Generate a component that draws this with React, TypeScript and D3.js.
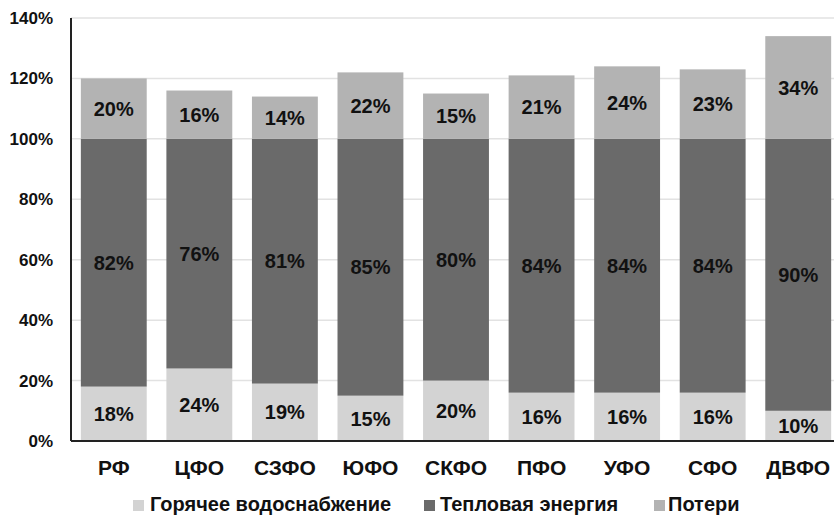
import React from 'react';
import * as d3 from 'd3';

const regions = ['РФ', 'ЦФО', 'СЗФО', 'ЮФО', 'СКФО', 'ПФО', 'УФО', 'СФО', 'ДВФО'];
const hotWater = [18, 24, 19, 15, 20, 16, 16, 16, 10];
const heatEnergy = [82, 76, 81, 85, 80, 84, 84, 84, 90];
const losses = [20, 16, 14, 22, 15, 21, 24, 23, 34];
const yTicks = [0, 20, 40, 60, 80, 100, 120, 140];
const seriesNames = ['Горячее водоснабжение', 'Тепловая энергия', 'Потери'];
const seriesColors = ['#d3d3d3', '#6a6a6a', '#b3b3b3'];

const W = 834;
const H = 517;
const margin = { top: 18, left: 71, bottom: 441 };

export default function App() {
  const x = d3.scaleBand<string>()
    .domain(regions)
    .range([margin.left, 841])
    .paddingInner(0.23)
    .paddingOuter(0.115);

  const y = d3.scaleLinear().domain([0, 140]).range([margin.bottom, margin.top]);

  const rows = regions.map((r, i) => ({ region: r, hot: hotWater[i], heat: heatEnergy[i], loss: losses[i] }));
  const stack = d3.stack<any>().keys(['hot', 'heat', 'loss'])(rows);

  const font = 'Arial, "Liberation Sans", sans-serif';
  const narrow = '"Liberation Sans Narrow", "Arial Narrow", Arial, sans-serif';

  // legend: square position, text position
  const legendItems = [
    { sx: 133, tx: 150, name: seriesNames[0], color: seriesColors[0] },
    { sx: 424, tx: 440, name: seriesNames[1], color: seriesColors[1] },
    { sx: 654, tx: 668, name: seriesNames[2], color: seriesColors[2] },
  ];

  return (
    <svg width={W} height={H} style={{ position: 'absolute', left: 0, top: 0, background: '#fff' }}>
      {yTicks.map(t => (
        <g key={t}>
          {t > 0 && (
            <line x1={margin.left} x2={W} y1={y(t)} y2={y(t)} stroke="#e2e2e2" strokeWidth={1.5} />
          )}
          <text x={53} y={y(t)} dy="0.35em" textAnchor="end" fontFamily={font} fontWeight="bold" fontSize={17} fill="#111">
            {t}%
          </text>
        </g>
      ))}

      {stack.map((layer, si) => (
        <g key={si}>
          {layer.map((d, i) => (
            <g key={i}>
              <rect
                x={x(regions[i])}
                y={y(d[1])}
                width={x.bandwidth()}
                height={y(d[0]) - y(d[1])}
                fill={seriesColors[si]}
              />
              <text
                x={(x(regions[i]) || 0) + x.bandwidth() / 2}
                y={(y(d[0]) + y(d[1])) / 2}
                dy="0.36em"
                textAnchor="middle"
                fontFamily={narrow}
                fontWeight="bold"
                fontSize={20}
                fill="#111"
              >
                {d[1] - d[0]}%
              </text>
            </g>
          ))}
        </g>
      ))}

      <line x1={margin.left} x2={margin.left} y1={margin.top} y2={margin.bottom} stroke="#222" strokeWidth={2} />
      <line x1={margin.left} x2={W} y1={margin.bottom} y2={margin.bottom} stroke="#222" strokeWidth={2} />

      {regions.map(r => (
        <text key={r} x={(x(r) || 0) + x.bandwidth() / 2} y={475} textAnchor="middle" fontFamily={font} fontWeight="bold" fontSize={21} fill="#111">
          {r}
        </text>
      ))}

      {legendItems.map(l => (
        <g key={l.name}>
          <rect x={l.sx} y={500} width={11} height={11} fill={l.color} />
          <text x={l.tx} y={511} fontFamily={font} fontWeight="bold" fontSize={20} fill="#111">
            {l.name}
          </text>
        </g>
      ))}
    </svg>
  );
}
